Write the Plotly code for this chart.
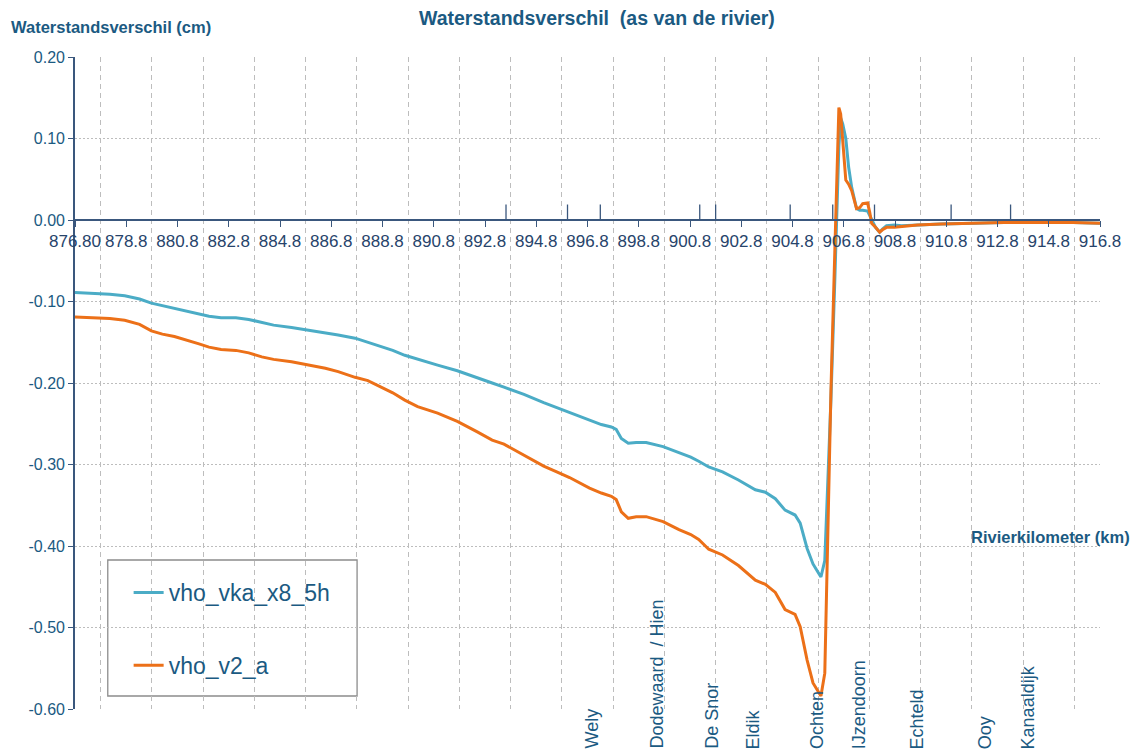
import plotly.graph_objects as go

# River kilometre stations (shared by both runs)
km = [876.80, 877.38, 878.16, 878.74, 879.32, 879.78, 880.21, 880.68, 881.26, 881.64,
      882.03, 882.50, 883.08, 883.58, 884.09, 884.55, 885.25, 885.91, 886.57, 887.07,
      887.73, 888.23, 888.62, 889.20, 889.67, 890.17, 890.95, 891.72, 892.50, 893.08,
      893.54, 894.32, 895.09, 895.60, 896.10, 896.88, 897.34, 897.73, 897.92, 898.12,
      898.39, 898.70, 899.09, 899.75, 900.37, 900.83, 901.14, 901.53, 902.07, 902.69,
      903.35, 903.74, 904.13, 904.51, 904.90, 905.10, 905.37, 905.60, 905.79, 905.91,
      906.06, 906.18, 906.30, 906.45, 906.61, 906.68, 906.76, 906.88, 906.99, 907.11,
      907.30, 907.42, 907.54, 907.73, 907.81, 907.89, 908.04, 908.20, 908.31, 908.47,
      908.78, 909.05, 909.67, 910.60, 911.88, 913.04, 914.59, 915.75, 916.80]

# Water level difference (cm), run vho_vka_x8_5h
vho_vka_x8_5h = [-0.089, -0.090, -0.091, -0.093, -0.097, -0.102, -0.105, -0.108, -0.112, -0.115,
                 -0.118, -0.120, -0.120, -0.122, -0.126, -0.129, -0.132, -0.135, -0.138, -0.141,
                 -0.145, -0.150, -0.154, -0.160, -0.166, -0.171, -0.178, -0.185, -0.194, -0.200,
                 -0.205, -0.214, -0.224, -0.230, -0.236, -0.245, -0.251, -0.254, -0.257, -0.268,
                 -0.274, -0.273, -0.273, -0.278, -0.286, -0.291, -0.296, -0.303, -0.309, -0.319,
                 -0.331, -0.334, -0.342, -0.356, -0.362, -0.372, -0.403, -0.422, -0.432, -0.438,
                 -0.418, -0.328, -0.220, -0.075, 0.090, 0.125, 0.118, 0.100, 0.065, 0.040,
                 0.014, 0.012, 0.012, 0.011, 0.006, 0.000, -0.009, -0.015, -0.011, -0.007,
                 -0.006, -0.007, -0.006, -0.005, -0.004, -0.003, -0.003, -0.003, -0.004]

# Water level difference (cm), run vho_v2_a
vho_v2_a = [-0.119, -0.120, -0.121, -0.123, -0.128, -0.136, -0.140, -0.143, -0.148, -0.152,
            -0.156, -0.159, -0.160, -0.163, -0.168, -0.171, -0.174, -0.178, -0.182, -0.186,
            -0.193, -0.197, -0.203, -0.212, -0.221, -0.229, -0.237, -0.247, -0.260, -0.270,
            -0.275, -0.289, -0.302, -0.309, -0.316, -0.329, -0.335, -0.339, -0.343, -0.358,
            -0.366, -0.364, -0.364, -0.370, -0.380, -0.386, -0.392, -0.404, -0.411, -0.424,
            -0.442, -0.447, -0.457, -0.478, -0.484, -0.499, -0.540, -0.568, -0.578, -0.584,
            -0.556, -0.369, -0.210, -0.040, 0.138, 0.130, 0.095, 0.049, 0.044, 0.036,
            0.014, 0.015, 0.020, 0.021, 0.010, -0.004, -0.009, -0.015, -0.012, -0.009,
            -0.009, -0.008, -0.006, -0.005, -0.004, -0.003, -0.003, -0.003, -0.004]

# Structure markers along the river axis
marker_km = [893.62, 896.02, 897.30, 901.18, 901.80, 904.71, 906.37, 908.00, 910.99, 913.31]
marker_height = 0.019

# Place names along the river
place_names = ["Wely", "Dodewaard  / Hien", "De Snor", "Eldik", "Ochten",
               "IJzendoorn", "Echteld", "Ooy", "Kanaaldijk"]
place_km = [896.80, 899.32, 901.49, 903.12, 905.60, 907.23, 909.52, 912.15, 913.85]

# Axis ticks
x_tick_vals = [876.8 + 2 * i for i in range(21)]
x_tick_labels = ["876.80", "878.8", "880.8", "882.8", "884.8", "886.8", "888.8", "890.8",
                 "892.8", "894.8", "896.8", "898.8", "900.8", "902.8", "904.8", "906.8",
                 "908.8", "910.8", "912.8", "914.8", "916.8"]
x_grid_vals = [877.8 + 2 * i for i in range(20)]
y_tick_vals = [0.2, 0.1, 0.0, -0.1, -0.2, -0.3, -0.4, -0.5, -0.6]
y_tick_labels = ["0.20", "0.10", "0.00", "-0.10", "-0.20", "-0.30", "-0.40", "-0.50", "-0.60"]

FONT = "Liberation Sans, Arial, sans-serif"
TEXT_BLUE = "#1B5A82"
AXIS_COL = "#3A577D"
GRID_COL = "#BDBDBD"
C_BLUE = "#4BACC6"
C_ORANGE = "#EC7018"

X_RANGE = [876.8, 916.8]
Y_RANGE = [-0.6, 0.2]

W, H = 1133, 754
ML, MR, MT, MB = 75, 26, 57, 45
PW, PH = W - ML - MR, H - MT - MB


def px_x(p):
    """Horizontal pixel position -> paper fraction."""
    return (p - ML) / PW


def px_y(p):
    """Vertical pixel position (from top) -> paper fraction."""
    return (H - MB - p) / PH


fig = go.Figure()

# vertical structure markers drawn as short segments above the zero line
mx, my = [], []
for k in marker_km:
    mx += [k, k, None]
    my += [0, marker_height, None]
fig.add_trace(go.Scatter(x=mx, y=my, mode="lines", line=dict(color=AXIS_COL, width=1.3),
                         showlegend=False, hoverinfo="skip"))

fig.add_trace(go.Scatter(x=km, y=vho_vka_x8_5h, mode="lines", name="vho_vka_x8_5h",
                         line=dict(color=C_BLUE, width=3), legendgroup="a"))
fig.add_trace(go.Scatter(x=km, y=vho_v2_a, mode="lines", name="vho_v2_a",
                         line=dict(color=C_ORANGE, width=3), legendgroup="b"))

# dummy trace so the overlaid grid axis is rendered
fig.add_trace(go.Scatter(x=[None], y=[None], xaxis="x2", showlegend=False, hoverinfo="skip"))

# y position of the zero line in paper fraction
zero_pos = (0 - Y_RANGE[0]) / (Y_RANGE[1] - Y_RANGE[0])

fig.update_layout(
    width=W, height=H,
    margin=dict(l=ML, r=MR, t=MT, b=MB),
    plot_bgcolor="white", paper_bgcolor="white",
    font=dict(family=FONT, color=TEXT_BLUE),
    xaxis=dict(
        range=X_RANGE, anchor="free", position=zero_pos,
        tickvals=x_tick_vals, ticktext=x_tick_labels,
        tickfont=dict(size=17, color="#27446B"),
        ticks="outside", ticklen=6, tickcolor=AXIS_COL, tickwidth=1.3,
        showline=True, linecolor=AXIS_COL, linewidth=1.6,
        showgrid=False, zeroline=False,
    ),
    xaxis2=dict(
        range=X_RANGE, overlaying="x", anchor="y", side="bottom",
        tickvals=x_grid_vals, showticklabels=False, ticks="",
        showgrid=True, gridcolor=GRID_COL, gridwidth=1, griddash="5px,4px",
        showline=False, zeroline=False,
    ),
    yaxis=dict(
        range=Y_RANGE, tickvals=y_tick_vals, ticktext=y_tick_labels,
        tickfont=dict(size=16, color=TEXT_BLUE),
        ticks="outside", ticklen=5, tickcolor=AXIS_COL, tickwidth=1.3,
        showline=True, linecolor=AXIS_COL, linewidth=1.6,
        showgrid=True, gridcolor=GRID_COL, gridwidth=1, griddash="2px,2px",
        zeroline=False,
    ),
    showlegend=True,
    legend=dict(
        x=px_x(129), y=px_y(571), xanchor="left", yanchor="top",
        bgcolor="rgba(0,0,0,0)", borderwidth=0,
        font=dict(size=23, color=TEXT_BLUE, family=FONT),
        tracegroupgap=40, traceorder="grouped",
    ),
    shapes=[dict(type="rect", xref="paper", yref="paper",
                 x0=px_x(108), x1=px_x(359), y0=px_y(696), y1=px_y(560),
                 line=dict(color="#8C8C8C", width=1.3), fillcolor="white", layer="below")],
)

annotations = [
    dict(text="<b>Waterstandsverschil  (as van de rivier)</b>", xref="paper", yref="paper",
         x=px_x(601), y=px_y(18), xanchor="center", yanchor="middle",
         showarrow=False, font=dict(size=19.5, color=TEXT_BLUE)),
    dict(text="<b>Waterstandsverschil (cm)</b>", xref="paper", yref="paper",
         x=px_x(9), y=px_y(27), xanchor="left", yanchor="middle",
         showarrow=False, font=dict(size=16.5, color=TEXT_BLUE)),
    dict(text="<b>Rivierkilometer (km)</b>", xref="paper", yref="paper",
         x=px_x(1139), y=px_y(537), xanchor="right", yanchor="middle",
         showarrow=False, font=dict(size=16.5, color=TEXT_BLUE)),
]
for name, k in zip(place_names, place_km):
    annotations.append(dict(text=name, xref="x", yref="paper", x=k, y=px_y(751),
                            xanchor="center", yanchor="bottom", textangle=-90, xshift=4,
                            showarrow=False, font=dict(size=18, color=TEXT_BLUE)))
fig.update_layout(annotations=annotations)

fig.write_html("out.html")
